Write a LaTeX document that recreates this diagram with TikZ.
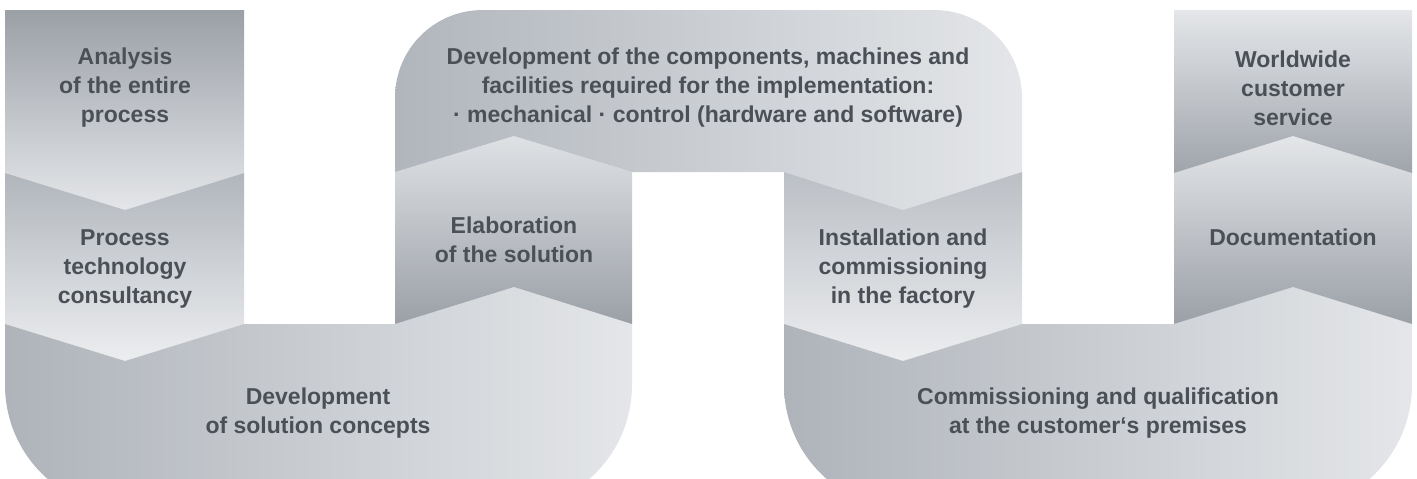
\documentclass[tikz,border=0pt]{standalone}
\usepackage{fontspec}
\setmainfont{Liberation Sans}
\definecolor{txtgray}{HTML}{4B5057}
\definecolor{darkgray}{HTML}{9BA0A7}
\definecolor{midgray}{HTML}{B1B6BC}
\definecolor{lightgray}{HTML}{E4E6E9}

\begin{document}
\begin{tikzpicture}[x=1pt,y=-1pt,
  txt/.style={align=center, text=txtgray, font=\fontsize{23}{29}\selectfont\bfseries}]
\useasboundingbox (0,0) rectangle (1417,479);
\clip (0,0) rectangle (1417,479);

% left column
\shade[top color=darkgray, bottom color=lightgray] (5,10) -- (244,10) -- (244,173) -- (125,210) -- (5,173) -- cycle;
\shade[top color=midgray, bottom color=lightgray!70!white] (5,173) -- (125,210) -- (244,173) -- (244,324) -- (125,361) -- (5,324) -- cycle;
\shade[left color=midgray!90!darkgray, right color=lightgray] (5,324) -- (125,361) -- (244,324) -- (395,324) -- (514,287) -- (632,324) -- (632,385) .. controls (632,454) and (576,510) .. (507,510) -- (130,510) .. controls (61,510) and (5,454) .. (5,385) -- cycle;

% middle
\shade[top color=lightgray!90!midgray, bottom color=darkgray] (395,172) -- (514,136) -- (632,172) -- (632,324) -- (514,287) -- (395,324) -- cycle;
\shade[left color=midgray, right color=lightgray] (395,172) -- (395,98) .. controls (395,49) and (434,10) .. (483,10) -- (934,10) .. controls (983,10) and (1022,49) .. (1022,98) -- (1022,172) -- (903,210) -- (784,172) -- (632,172) -- (514,136) -- cycle;
\shade[top color=midgray!80!lightgray, bottom color=lightgray!70!white] (784,172) -- (903,210) -- (1022,172) -- (1022,324) -- (903,361) -- (784,324) -- cycle;

% right column
\shade[left color=midgray!90!darkgray, right color=lightgray] (784,324) -- (903,361) -- (1022,324) -- (1174,324) -- (1293,287) -- (1412,324) -- (1412,385) .. controls (1412,454) and (1356,510) .. (1287,510) -- (909,510) .. controls (840,510) and (784,454) .. (784,385) -- cycle;
\shade[top color=lightgray, bottom color=darkgray] (1174,173) -- (1293,136) -- (1412,173) -- (1412,324) -- (1293,287) -- (1174,324) -- cycle;
\shade[top color=lightgray, bottom color=darkgray!80!midgray] (1174,10) -- (1412,10) -- (1412,173) -- (1293,136) -- (1174,173) -- cycle;

\node[txt] (analysis) at (125,88) {Analysis\\of the entire\\process};
\node[txt] (consult) at (125,269) {Process\\technology\\consultancy};
\node[txt] (concept) at (318,413) {Development\\of solution concepts};
\node[txt] (elab) at (514,240) {Elaboration\\of the solution};
\node[txt] (compdev) at (708,88) {Development of the components, machines and\\facilities required for the implementation:\\· mechanical · control (hardware and software)};
\node[txt] (install) at (903,269) {Installation and\\commissioning\\in the factory};
\node[txt] (commission) at (1098,413) {Commissioning and qualification\\at the customer‘s premises};
\node[txt] (docu) at (1293,237) {Documentation};
\node[txt] (service) at (1293,88) {Worldwide\\customer\\service};
\end{tikzpicture}
\end{document}
